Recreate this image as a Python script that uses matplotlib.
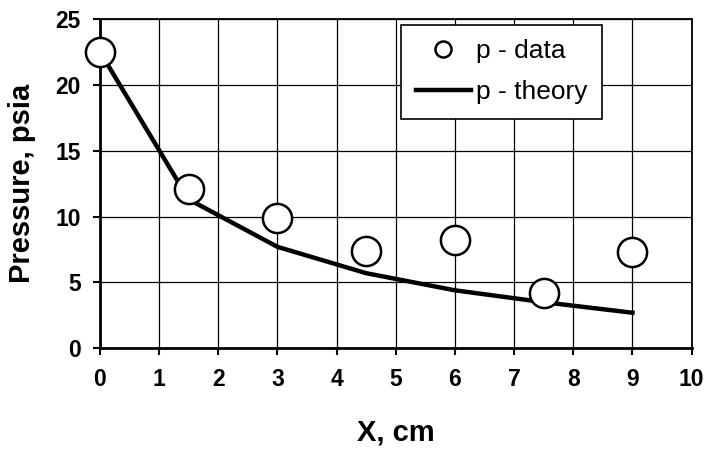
import matplotlib
matplotlib.use("Agg")
import matplotlib.pyplot as plt

x_data = [0, 1.5, 3, 4.5, 6, 7.5, 9]
p_data = [22.5, 12.1, 9.9, 7.4, 8.2, 4.2, 7.3]
p_theory = [22.5, 11.3, 7.7, 5.7, 4.4, 3.5, 2.7]

plt.rcParams["font.family"] = ["Liberation Sans", "DejaVu Sans"]

fig = plt.figure(figsize=(7.06, 4.5), dpi=100)
ax = fig.add_axes([0.1416, 0.226, 0.838, 0.732])

ax.plot(x_data, p_theory, color="black", linewidth=3.2, label="p - theory", zorder=3)
ax.plot(x_data, p_data, linestyle="none", marker="o", markersize=21,
        markerfacecolor="white", markeredgecolor="black", markeredgewidth=1.8,
        label="p - data", zorder=4, clip_on=False)

ax.set_xlim(0, 10)
ax.set_ylim(0, 25)
ax.set_xticks(range(0, 11))
ax.set_yticks(range(0, 26, 5))
ax.grid(True, color="black", linewidth=0.9)
ax.set_axisbelow(True)

for s in ["left", "bottom"]:
    ax.spines[s].set_linewidth(2)
for s in ["top", "right"]:
    ax.spines[s].set_linewidth(1.3)

ax.tick_params(direction="out", length=5, width=1.5, labelsize=16.5, pad=9)
for lab in ax.get_xticklabels() + ax.get_yticklabels():
    lab.set_fontweight("bold")

ax.set_xlabel("X, cm", fontsize=21, fontweight="bold", labelpad=20)
ax.set_ylabel("Pressure, psia", fontsize=21, fontweight="bold", labelpad=14)

handles, labels = ax.get_legend_handles_labels()
leg = ax.legend(handles[::-1], labels[::-1], loc="upper left", bbox_to_anchor=(0.509, 0.982),
                borderaxespad=0, fontsize=19, markerscale=0.55, frameon=True, fancybox=False,
                edgecolor="black", framealpha=1, handlelength=2.1,
                handletextpad=0.2, borderpad=0.55, labelspacing=0.65)
leg.get_frame().set_linewidth(1.2)

plt.savefig("out.png", dpi=100)
